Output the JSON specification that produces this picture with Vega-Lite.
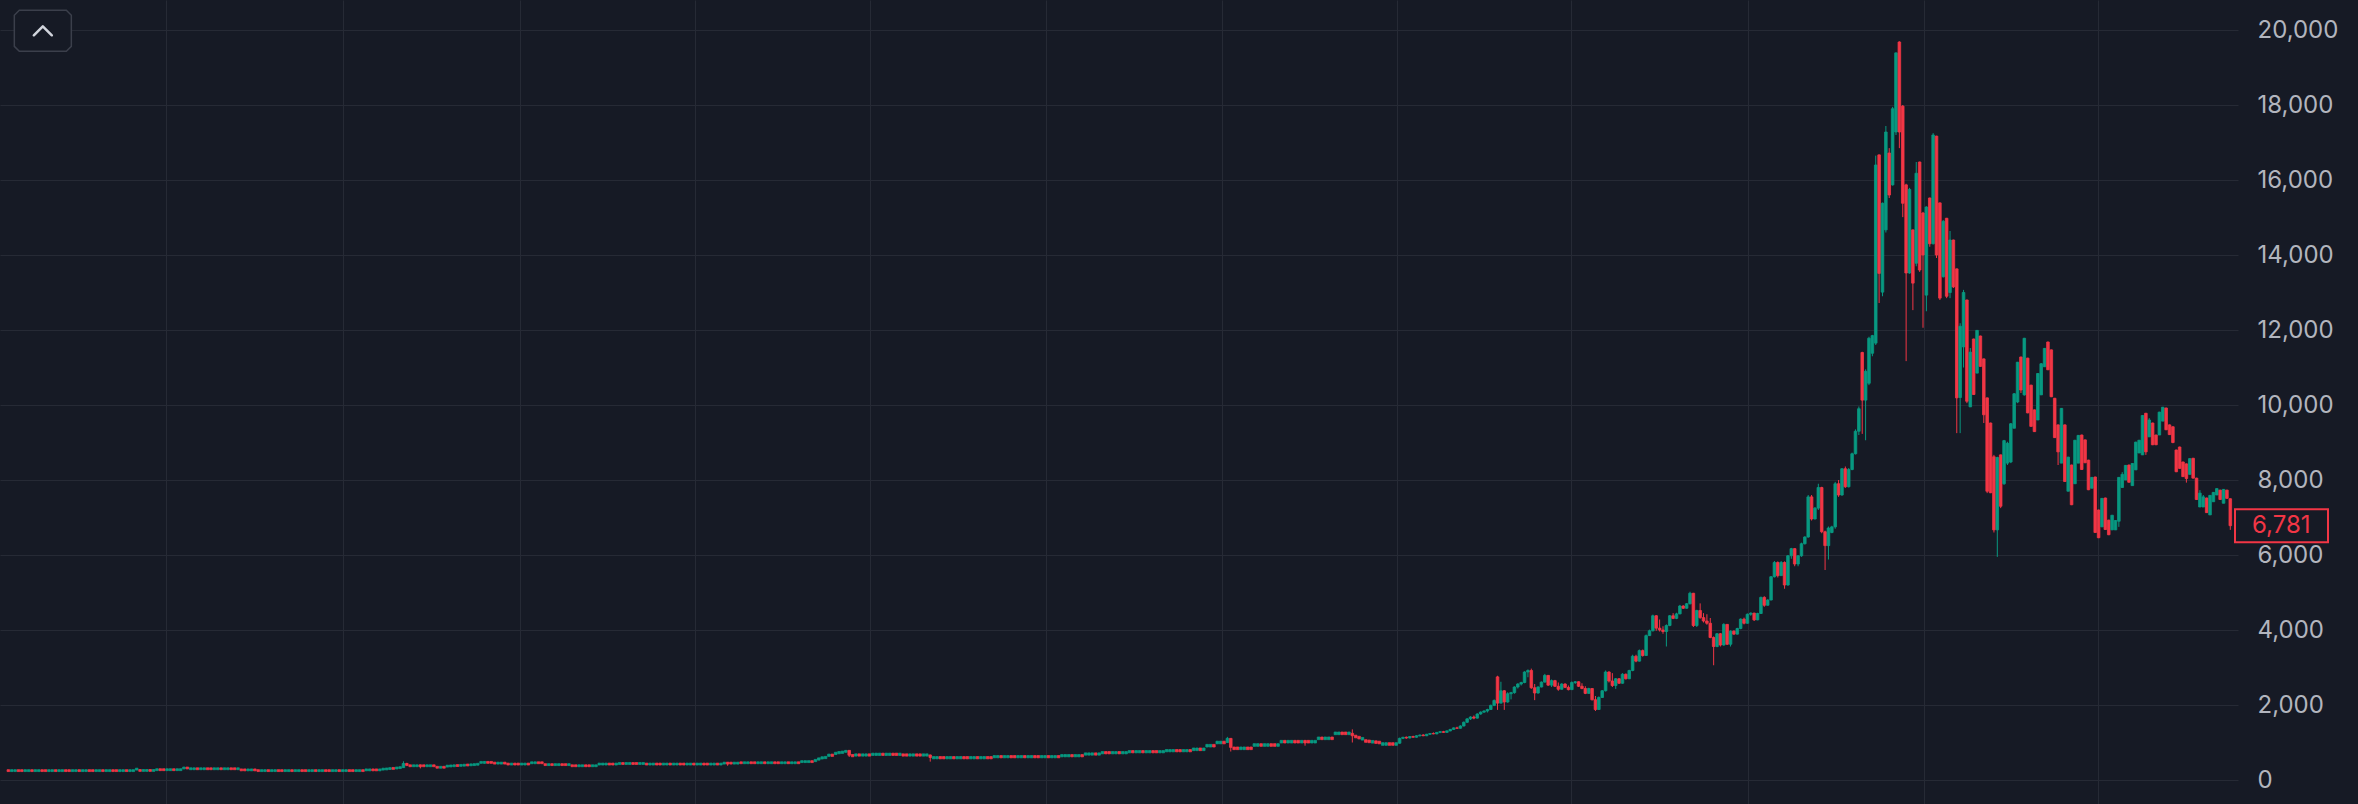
{
"$schema": "https://vega.github.io/schema/vega-lite/v6.json",
"width": 2358, "height": 804,
"autosize": {"type": "fit", "contains": "padding"},
"padding": 0,
"background": "#161a25",
"config": {"view": {"stroke": null}},
"data": {"values": [
{"w":1,"o":275,"c":225},{"w":2,"o":225,"c":275},{"w":3,"o":225,"c":275},{"w":4,"o":275,"c":225},{"w":5,"o":275,"c":225},{"w":6,"o":225,"c":275},{"w":7,"o":225,"c":275},{"w":8,"o":275,"c":225},{"w":9,"o":225,"c":275},{"w":10,"o":225,"c":275},
{"w":11,"o":275,"c":225},{"w":12,"o":275,"c":225},{"w":13,"o":225,"c":275},{"w":14,"o":225,"c":275},{"w":15,"o":275,"c":225},{"w":16,"o":225,"c":275},{"w":17,"o":225,"c":275},{"w":18,"o":275,"c":225},{"w":19,"o":275,"c":225},{"w":20,"o":225,"c":275},
{"w":21,"o":225,"c":275},{"w":22,"o":275,"c":225},{"w":23,"o":225,"c":275},{"w":24,"o":225,"c":275},{"w":25,"o":275,"c":225},{"w":26,"o":275,"c":225},{"w":27,"o":225,"c":275},{"w":28,"o":225,"c":275},{"w":29,"o":275,"c":225},{"w":30,"o":225,"c":275},
{"w":31,"o":225,"c":275},{"w":32,"o":275,"c":225},{"w":33,"o":275,"c":225},{"w":34,"o":225,"c":275},{"w":35,"o":225,"c":275},{"w":36,"o":275,"c":225},{"w":37,"o":225,"c":275},{"w":38,"o":225,"c":275},{"w":39,"o":265,"c":315},{"w":40,"o":280,"c":230},
{"w":41,"o":230,"c":280},{"w":42,"o":230,"c":280},{"w":43,"o":280,"c":230},{"w":44,"o":230,"c":280},{"w":45,"o":250,"c":300},{"w":46,"o":300,"c":250},{"w":47,"o":300,"c":250},{"w":48,"o":250,"c":300},{"w":49,"o":250,"c":300},{"w":50,"o":300,"c":250},
{"w":51,"o":250,"c":300},{"w":52,"o":250,"c":300},{"w":53,"o":295,"c":345},{"w":54,"o":345,"c":295},{"w":55,"o":275,"c":325},{"w":56,"o":275,"c":325},{"w":57,"o":325,"c":275},{"w":58,"o":275,"c":325},{"w":59,"o":275,"c":325},{"w":60,"o":325,"c":275},
{"w":61,"o":325,"c":275},{"w":62,"o":275,"c":325},{"w":63,"o":275,"c":325},{"w":64,"o":325,"c":275},{"w":65,"o":275,"c":325},{"w":66,"o":275,"c":325},{"w":67,"o":325,"c":275},{"w":68,"o":325,"c":275},{"w":69,"o":275,"c":325},{"w":70,"o":295,"c":245},
{"w":71,"o":295,"c":245},{"w":72,"o":245,"c":295},{"w":73,"o":245,"c":295},{"w":74,"o":295,"c":245},{"w":75,"o":275,"c":225},{"w":76,"o":225,"c":275},{"w":77,"o":225,"c":275},{"w":78,"o":275,"c":225},{"w":79,"o":225,"c":275},{"w":80,"o":225,"c":275},
{"w":81,"o":275,"c":225},{"w":82,"o":275,"c":225},{"w":83,"o":225,"c":275},{"w":84,"o":225,"c":275},{"w":85,"o":275,"c":225},{"w":86,"o":225,"c":275},{"w":87,"o":225,"c":275},{"w":88,"o":275,"c":225},{"w":89,"o":275,"c":225},{"w":90,"o":225,"c":275},
{"w":91,"o":225,"c":275},{"w":92,"o":275,"c":225},{"w":93,"o":225,"c":275},{"w":94,"o":225,"c":275},{"w":95,"o":275,"c":225},{"w":96,"o":275,"c":225},{"w":97,"o":225,"c":275},{"w":98,"o":225,"c":275},{"w":99,"o":275,"c":225},{"w":100,"o":225,"c":275},
{"w":101,"o":225,"c":275},{"w":102,"o":275,"c":225},{"w":103,"o":275,"c":225},{"w":104,"o":225,"c":275},{"w":105,"o":225,"c":275},{"w":106,"o":275,"c":225},{"w":107,"o":245,"c":295},{"w":108,"o":245,"c":295},{"w":109,"o":295,"c":245},{"w":110,"o":295,"c":245},
{"w":111,"o":245,"c":295},{"w":112,"o":265,"c":315},{"w":113,"o":270,"c":320},{"w":114,"o":280,"c":330},{"w":115,"o":335,"c":285},{"w":116,"o":295,"c":345},{"w":117,"o":305,"c":355},{"w":118,"o":330,"h":500,"l":320,"c":440},{"w":119,"o":440,"h":460,"l":370,"c":390},{"w":120,"o":405,"c":355},
{"w":121,"o":355,"c":405},{"w":122,"o":355,"c":405},{"w":123,"o":405,"h":410,"l":310,"c":355},{"w":124,"o":405,"c":355},{"w":125,"o":355,"c":405},{"w":126,"o":355,"c":405},{"w":127,"o":405,"c":355},{"w":128,"o":365,"c":315},{"w":129,"o":315,"c":365},{"w":130,"o":365,"c":315},
{"w":131,"o":345,"c":395},{"w":132,"o":350,"c":400},{"w":133,"o":355,"c":405},{"w":134,"o":410,"c":360},{"w":135,"o":365,"c":415},{"w":136,"o":370,"c":420},{"w":137,"o":425,"c":375},{"w":138,"o":380,"c":430},{"w":139,"o":385,"c":435},{"w":140,"o":395,"c":445},
{"w":141,"o":445,"c":495},{"w":142,"o":445,"h":500,"l":440,"c":495},{"w":143,"o":495,"c":445},{"w":144,"o":495,"c":445},{"w":145,"o":475,"c":425},{"w":146,"o":425,"c":475},{"w":147,"o":425,"c":475},{"w":148,"o":475,"c":425},{"w":149,"o":450,"c":400},{"w":150,"o":400,"c":450},
{"w":151,"o":450,"c":400},{"w":152,"o":450,"c":400},{"w":153,"o":400,"c":450},{"w":154,"o":400,"c":450},{"w":155,"o":450,"c":400},{"w":156,"o":435,"c":485},{"w":157,"o":435,"c":485},{"w":158,"o":485,"c":435},{"w":159,"o":485,"c":435},{"w":160,"o":435,"c":385},
{"w":161,"o":385,"c":435},{"w":162,"o":435,"c":385},{"w":163,"o":385,"c":435},{"w":164,"o":385,"c":435},{"w":165,"o":435,"c":385},{"w":166,"o":435,"c":385},{"w":167,"o":385,"c":435},{"w":168,"o":405,"c":355},{"w":169,"o":405,"c":355},{"w":170,"o":355,"c":405},
{"w":171,"o":355,"c":405},{"w":172,"o":405,"c":355},{"w":173,"o":405,"c":355},{"w":174,"o":355,"c":405},{"w":175,"o":355,"c":405},{"w":176,"o":400,"c":450},{"w":177,"o":400,"c":450},{"w":178,"o":400,"c":450},{"w":179,"o":450,"c":400},{"w":180,"o":450,"c":400},
{"w":181,"o":400,"c":450},{"w":182,"o":415,"c":465},{"w":183,"o":465,"c":415},{"w":184,"o":415,"c":465},{"w":185,"o":415,"c":465},{"w":186,"o":465,"c":415},{"w":187,"o":465,"c":415},{"w":188,"o":415,"c":465},{"w":189,"o":415,"c":465},{"w":190,"o":450,"c":400},
{"w":191,"o":400,"c":450},{"w":192,"o":400,"c":450},{"w":193,"o":450,"c":400},{"w":194,"o":450,"c":400},{"w":195,"o":400,"c":450},{"w":196,"o":400,"c":450},{"w":197,"o":450,"c":400},{"w":198,"o":400,"c":450},{"w":199,"o":400,"c":450},{"w":200,"o":450,"c":400},
{"w":201,"o":450,"c":400},{"w":202,"o":400,"c":450},{"w":203,"o":400,"c":450},{"w":204,"o":450,"c":400},{"w":205,"o":400,"c":450},{"w":206,"o":400,"c":450},{"w":207,"o":450,"c":400},{"w":208,"o":450,"c":400},{"w":209,"o":400,"c":450},{"w":210,"o":400,"c":450},
{"w":211,"o":450,"c":400},{"w":212,"o":400,"c":450},{"w":213,"o":425,"c":475},{"w":214,"o":475,"h":480,"l":380,"c":425},{"w":215,"o":475,"c":425},{"w":216,"o":425,"c":475},{"w":217,"o":425,"c":475},{"w":218,"o":485,"c":435},{"w":219,"o":435,"c":485},{"w":220,"o":435,"c":485},
{"w":221,"o":485,"c":435},{"w":222,"o":485,"c":435},{"w":223,"o":435,"c":485},{"w":224,"o":435,"c":485},{"w":225,"o":485,"c":435},{"w":226,"o":435,"c":485},{"w":227,"o":435,"c":485},{"w":228,"o":485,"c":435},{"w":229,"o":485,"c":435},{"w":230,"o":435,"c":485},
{"w":231,"o":435,"c":485},{"w":232,"o":485,"c":435},{"w":233,"o":435,"c":485},{"w":234,"o":435,"c":485},{"w":235,"o":485,"c":435},{"w":236,"o":465,"c":515},{"w":237,"o":465,"c":515},{"w":238,"o":465,"c":515},{"w":239,"o":515,"c":465},{"w":240,"o":490,"c":550},
{"w":241,"o":530,"c":590},{"w":242,"o":560,"c":620},{"w":243,"o":570,"c":630},{"w":244,"o":630,"c":690},{"w":245,"o":690,"c":630},{"w":246,"o":680,"c":740},{"w":247,"o":700,"c":760},{"w":248,"o":710,"c":770},{"w":249,"o":740,"h":800,"l":730,"c":790},{"w":250,"o":790,"h":795,"l":613,"c":660},
{"w":251,"o":680,"c":620},{"w":252,"o":637,"c":697},{"w":253,"o":697,"c":637},{"w":254,"o":637,"c":697},{"w":255,"o":637,"c":697},{"w":256,"o":697,"c":637},{"w":257,"o":655,"c":715},{"w":258,"o":655,"c":715},{"w":259,"o":655,"c":715},{"w":260,"o":715,"c":655},
{"w":261,"o":655,"c":715},{"w":262,"o":655,"c":715},{"w":263,"o":715,"c":655},{"w":264,"o":715,"c":655},{"w":265,"o":655,"c":715},{"w":266,"o":697,"c":637},{"w":267,"o":697,"c":637},{"w":268,"o":637,"c":697},{"w":269,"o":637,"c":697},{"w":270,"o":697,"c":637},
{"w":271,"o":697,"c":637},{"w":272,"o":637,"c":697},{"w":273,"o":637,"c":697},{"w":274,"o":667,"h":680,"l":490,"c":600},{"w":275,"o":565,"c":625},{"w":276,"o":565,"c":625},{"w":277,"o":625,"c":565},{"w":278,"o":625,"c":565},{"w":279,"o":565,"c":625},{"w":280,"o":565,"c":625},
{"w":281,"o":625,"c":565},{"w":282,"o":565,"c":625},{"w":283,"o":565,"c":625},{"w":284,"o":625,"c":565},{"w":285,"o":625,"c":565},{"w":286,"o":565,"c":625},{"w":287,"o":565,"c":625},{"w":288,"o":625,"c":565},{"w":289,"o":565,"c":625},{"w":290,"o":565,"c":625},
{"w":291,"o":625,"c":565},{"w":292,"o":625,"c":565},{"w":293,"o":592,"c":652},{"w":294,"o":592,"c":652},{"w":295,"o":652,"c":592},{"w":296,"o":592,"c":652},{"w":297,"o":592,"c":652},{"w":298,"o":652,"c":592},{"w":299,"o":652,"c":592},{"w":300,"o":592,"c":652},
{"w":301,"o":592,"c":652},{"w":302,"o":652,"c":592},{"w":303,"o":592,"c":652},{"w":304,"o":592,"c":652},{"w":305,"o":652,"c":592},{"w":306,"o":652,"c":592},{"w":307,"o":592,"c":652},{"w":308,"o":592,"c":652},{"w":309,"o":652,"c":592},{"w":310,"o":592,"c":652},
{"w":311,"o":592,"c":652},{"w":312,"o":652,"c":592},{"w":313,"o":618,"c":678},{"w":314,"o":618,"c":678},{"w":315,"o":618,"c":678},{"w":316,"o":678,"c":618},{"w":317,"o":618,"c":678},{"w":318,"o":618,"c":678},{"w":319,"o":678,"c":618},{"w":320,"o":663,"c":723},
{"w":321,"o":663,"c":723},{"w":322,"o":663,"c":723},{"w":323,"o":723,"c":663},{"w":324,"o":663,"c":723},{"w":325,"o":698,"c":758},{"w":326,"o":758,"c":698},{"w":327,"o":758,"c":698},{"w":328,"o":698,"c":758},{"w":329,"o":698,"c":758},{"w":330,"o":758,"c":698},
{"w":331,"o":698,"c":758},{"w":332,"o":698,"c":758},{"w":333,"o":725,"c":785},{"w":334,"o":785,"c":725},{"w":335,"o":725,"c":785},{"w":336,"o":725,"c":785},{"w":337,"o":785,"c":725},{"w":338,"o":725,"c":785},{"w":339,"o":725,"c":785},{"w":340,"o":785,"c":725},
{"w":341,"o":785,"c":725},{"w":342,"o":725,"c":785},{"w":343,"o":725,"c":785},{"w":344,"o":752,"c":812},{"w":345,"o":752,"c":812},{"w":346,"o":752,"c":812},{"w":347,"o":812,"c":752},{"w":348,"o":812,"c":752},{"w":349,"o":752,"c":812},{"w":350,"o":752,"c":812},
{"w":351,"o":812,"c":752},{"w":352,"o":783,"c":853},{"w":353,"o":783,"c":853},{"w":354,"o":853,"c":783},{"w":355,"o":783,"c":853},{"w":356,"o":880,"c":950},{"w":357,"o":880,"c":950},{"w":358,"o":950,"c":880},{"w":359,"o":965,"c":1035},{"w":360,"o":965,"c":1035},
{"w":361,"o":1035,"c":965},{"w":362,"o":1000,"h":1150,"l":990,"c":1110},{"w":363,"o":1110,"h":1120,"l":760,"c":870},{"w":364,"o":880,"c":810},{"w":365,"o":880,"c":810},{"w":366,"o":810,"c":880},{"w":367,"o":810,"c":880},{"w":368,"o":880,"c":810},{"w":369,"o":880,"c":810},{"w":370,"o":898,"c":968},
{"w":371,"o":898,"c":968},{"w":372,"o":968,"c":898},{"w":373,"o":898,"c":968},{"w":374,"o":898,"c":968},{"w":375,"o":968,"c":898},{"w":376,"o":968,"c":898},{"w":377,"o":898,"c":968},{"w":378,"o":987,"c":1057},{"w":379,"o":1057,"c":987},{"w":380,"o":987,"c":1057},
{"w":381,"o":987,"c":1057},{"w":382,"o":1057,"c":987},{"w":383,"o":1057,"c":987},{"w":384,"o":987,"c":1057},{"w":385,"o":1057,"h":1060,"l":915,"c":987},{"w":386,"o":1057,"c":987},{"w":387,"o":987,"c":1057},{"w":388,"o":987,"c":1057},{"w":389,"o":1076,"c":1146},{"w":390,"o":1146,"c":1076},
{"w":391,"o":1076,"c":1146},{"w":392,"o":1076,"c":1146},{"w":393,"o":1146,"c":1076},{"w":394,"o":1209,"c":1279},{"w":395,"o":1209,"c":1279},{"w":396,"o":1279,"c":1209},{"w":397,"o":1279,"c":1209},{"w":398,"o":1209,"c":1279},{"w":399,"o":1244,"h":1350,"l":1000,"c":1180},{"w":400,"o":1195,"c":1125},
{"w":401,"o":1165,"c":1095},{"w":402,"o":1065,"c":1135},{"w":403,"o":1075,"c":1005},{"w":404,"o":1065,"c":995},{"w":405,"o":985,"c":1055},{"w":406,"o":1045,"c":975},{"w":407,"o":1035,"c":965},{"w":408,"o":925,"c":995},{"w":409,"o":925,"c":995},{"w":410,"o":995,"c":925},
{"w":411,"o":995,"c":925},{"w":412,"o":925,"c":995},
{"w":413,"o":980,"h":1130,"l":970,"c":1110},{"w":414,"o":1110,"h":1150,"l":1090,"c":1140},{"w":415,"o":1140,"h":1160,"l":1100,"c":1120},{"w":416,"o":1120,"h":1170,"l":1110,"c":1160},{"w":417,"o":1160,"h":1180,"l":1130,"c":1140},
{"w":418,"o":1140,"h":1190,"l":1130,"c":1180},{"w":419,"o":1180,"h":1210,"l":1160,"c":1200},{"w":420,"o":1200,"h":1220,"l":1170,"c":1180},{"w":421,"o":1180,"h":1230,"l":1170,"c":1220},{"w":422,"o":1220,"h":1250,"l":1200,"c":1240},
{"w":423,"o":1240,"h":1270,"l":1220,"c":1230},{"w":424,"o":1230,"h":1280,"l":1220,"c":1270},{"w":425,"o":1270,"h":1300,"l":1250,"c":1290},{"w":426,"o":1290,"h":1310,"l":1260,"c":1270},{"w":427,"o":1270,"h":1320,"l":1260,"c":1310},
{"w":428,"o":1310,"h":1360,"l":1300,"c":1350},{"w":429,"o":1350,"h":1400,"l":1340,"c":1390},{"w":430,"o":1390,"h":1420,"l":1360,"c":1380},{"w":431,"o":1380,"h":1460,"l":1370,"c":1440},{"w":432,"o":1440,"h":1560,"l":1430,"c":1540},
{"w":433,"o":1540,"h":1650,"l":1520,"c":1630},{"w":434,"o":1630,"h":1700,"l":1600,"c":1680},{"w":435,"o":1680,"h":1720,"l":1620,"c":1650},{"w":436,"o":1650,"h":1780,"l":1640,"c":1760},{"w":437,"o":1760,"h":1830,"l":1740,"c":1810},
{"w":438,"o":1810,"h":1860,"l":1790,"c":1840},{"w":439,"o":1840,"h":1900,"l":1800,"c":1880},{"w":440,"o":1880,"h":2010,"l":1870,"c":1990},{"w":441,"o":1990,"h":2150,"l":1970,"c":2120},{"w":442,"o":2750,"h":2780,"l":1870,"c":2050},
{"w":443,"o":2050,"h":2620,"l":2040,"c":2380},{"w":444,"o":2380,"h":2400,"l":1870,"c":2080},{"w":445,"o":2080,"h":2340,"l":2060,"c":2300},{"w":446,"o":2300,"h":2350,"l":2150,"c":2330},{"w":447,"o":2330,"h":2500,"l":2300,"c":2480},
{"w":448,"o":2480,"h":2580,"l":2440,"c":2560},{"w":449,"o":2560,"h":2620,"l":2520,"c":2600},{"w":450,"o":2600,"h":2900,"l":2580,"c":2880},{"w":451,"o":2880,"h":2950,"l":2740,"c":2920},{"w":452,"o":2920,"h":2970,"l":2430,"c":2460},
{"w":453,"o":2460,"h":2560,"l":2130,"c":2320},{"w":454,"o":2320,"h":2500,"l":2300,"c":2480},{"w":455,"o":2480,"h":2630,"l":2470,"c":2610},{"w":456,"o":2610,"h":2830,"l":2600,"c":2790},{"w":457,"o":2790,"h":2800,"l":2510,"c":2530},
{"w":458,"o":2530,"h":2680,"l":2480,"c":2650},{"w":459,"o":2650,"h":2670,"l":2480,"c":2500},{"w":460,"o":2500,"h":2600,"l":2380,"c":2420},{"w":461,"o":2420,"h":2580,"l":2410,"c":2560},{"w":462,"o":2560,"h":2580,"l":2450,"c":2470},
{"w":463,"o":2470,"h":2520,"l":2390,"c":2410},{"w":464,"o":2410,"h":2630,"l":2400,"c":2600},{"w":465,"o":2600,"h":2640,"l":2560,"c":2620},{"w":466,"o":2620,"h":2630,"l":2480,"c":2500},{"w":467,"o":2500,"h":2580,"l":2420,"c":2440},
{"w":468,"o":2440,"h":2500,"l":2290,"c":2310},{"w":469,"o":2310,"h":2460,"l":2300,"c":2440},{"w":470,"o":2440,"h":2450,"l":2120,"c":2140},{"w":471,"o":2140,"h":2240,"l":1840,"c":1880},{"w":472,"o":1880,"h":2230,"l":1870,"c":2200},
{"w":473,"o":2200,"h":2400,"l":2190,"c":2380},{"w":474,"o":2380,"h":2920,"l":2360,"c":2880},{"w":475,"o":2880,"h":2900,"l":2600,"c":2640},{"w":476,"o":2640,"h":2850,"l":2480,"c":2520},{"w":477,"o":2520,"h":2720,"l":2430,"c":2700},
{"w":478,"o":2700,"h":2720,"l":2560,"c":2580},{"w":479,"o":2580,"h":2850,"l":2570,"c":2820},{"w":480,"o":2820,"h":2840,"l":2680,"c":2700},{"w":481,"o":2700,"h":2940,"l":2690,"c":2920},{"w":482,"o":2920,"h":3340,"l":2900,"c":3300},
{"w":483,"o":3300,"h":3340,"l":3140,"c":3170},{"w":484,"o":3170,"h":3480,"l":3160,"c":3450},{"w":485,"o":3450,"h":3480,"l":3290,"c":3320},{"w":486,"o":3320,"h":3880,"l":3310,"c":3850},{"w":487,"o":3850,"h":4010,"l":3840,"c":3980},
{"w":488,"o":3980,"h":4410,"l":3960,"c":4380},{"w":489,"o":4380,"h":4400,"l":3980,"c":4050},{"w":490,"o":4050,"h":4280,"l":3960,"c":4000},{"w":491,"o":4000,"h":4100,"l":3900,"c":3960},{"w":492,"o":3960,"h":4150,"l":3560,"c":4120},
{"w":493,"o":4120,"h":4400,"l":4100,"c":4380},{"w":494,"o":4380,"h":4450,"l":4290,"c":4310},{"w":495,"o":4310,"h":4460,"l":4290,"c":4430},{"w":496,"o":4430,"h":4670,"l":4420,"c":4640},{"w":497,"o":4640,"h":4660,"l":4560,"c":4580},
{"w":498,"o":4580,"h":4720,"l":4570,"c":4700},{"w":499,"o":4700,"h":5020,"l":4680,"c":4980},{"w":500,"o":4980,"h":4990,"l":4080,"c":4120},{"w":501,"o":4120,"h":4540,"l":4080,"c":4520},{"w":502,"o":4520,"h":4710,"l":4300,"c":4330},
{"w":503,"o":4330,"h":4450,"l":4200,"c":4240},{"w":504,"o":4240,"h":4420,"l":4140,"c":4180},{"w":505,"o":4180,"h":4320,"l":3780,"c":3800},{"w":506,"o":3800,"h":3830,"l":3060,"c":3560},{"w":507,"o":3560,"h":3920,"l":3540,"c":3900},
{"w":508,"o":3900,"h":3920,"l":3560,"c":3600},{"w":509,"o":3600,"h":4180,"l":3580,"c":4150},{"w":510,"o":4150,"h":4160,"l":3600,"c":3620},{"w":511,"o":3620,"h":3990,"l":3560,"c":3970},{"w":512,"o":3970,"h":3990,"l":3870,"c":3890},
{"w":513,"o":3890,"h":4060,"l":3880,"c":4040},{"w":514,"o":4040,"h":4310,"l":4020,"c":4290},{"w":515,"o":4290,"h":4330,"l":4150,"c":4180},{"w":516,"o":4180,"h":4440,"l":4170,"c":4420},{"w":517,"o":4420,"h":4470,"l":4380,"c":4450},
{"w":518,"o":4450,"h":4460,"l":4240,"c":4270},{"w":519,"o":4270,"h":4460,"l":4260,"c":4440},{"w":520,"o":4440,"h":4890,"l":4430,"c":4870},{"w":521,"o":4870,"h":4900,"l":4620,"c":4660},{"w":522,"o":4660,"h":4820,"l":4650,"c":4800},
{"w":523,"o":4800,"h":5440,"l":4790,"c":5420},{"w":524,"o":5420,"h":5840,"l":5400,"c":5800},{"w":525,"o":5800,"h":5830,"l":5400,"c":5450},{"w":526,"o":5450,"h":5840,"l":5440,"c":5800},{"w":527,"o":5800,"h":5830,"l":5100,"c":5200},
{"w":528,"o":5200,"h":6000,"l":5180,"c":5980},{"w":529,"o":5980,"h":6190,"l":5900,"c":6170},{"w":530,"o":6170,"h":6180,"l":5700,"c":5760},{"w":531,"o":5760,"h":6000,"l":5700,"c":5980},{"w":532,"o":5980,"h":6330,"l":5950,"c":6300},
{"w":533,"o":6300,"h":6500,"l":6280,"c":6480},{"w":534,"o":6480,"h":7600,"l":6460,"c":7550},{"w":535,"o":7550,"h":7600,"l":6920,"c":6960},{"w":536,"o":6960,"h":7280,"l":6950,"c":7250},{"w":537,"o":7250,"h":7900,"l":7200,"c":7800},
{"w":538,"o":7800,"h":7820,"l":6580,"c":6620},{"w":539,"o":6620,"h":6650,"l":5600,"c":6250},{"w":540,"o":6250,"h":6760,"l":5880,"c":6720},{"w":541,"o":6600,"h":6780,"l":6580,"c":6750},{"w":542,"o":6750,"h":7950,"l":6700,"c":7900},
{"w":543,"o":7900,"h":8000,"l":7550,"c":7600},{"w":544,"o":7600,"h":8320,"l":7580,"c":8300},{"w":545,"o":8300,"h":8360,"l":7790,"c":7820},{"w":546,"o":7820,"h":8320,"l":7800,"c":8280},{"w":547,"o":8280,"h":8730,"l":8260,"c":8700},
{"w":548,"o":8700,"h":9350,"l":8680,"c":9300},{"w":549,"o":9300,"h":9960,"l":9200,"c":9900},{"w":550,"o":11400,"h":11420,"l":9230,"c":10130},{"w":551,"o":10130,"h":10950,"l":9060,"c":10900},{"w":552,"o":10580,"h":11820,"l":10530,"c":11780},
{"w":553,"o":11380,"h":11870,"l":11300,"c":11850},{"w":554,"o":11650,"h":16650,"l":11600,"c":16400},{"w":555,"o":16670,"h":16680,"l":12720,"c":13510},{"w":556,"o":13010,"h":15400,"l":12900,"c":15380},{"w":557,"o":14670,"h":17440,"l":14600,"c":17280},
{"w":558,"o":16720,"h":16850,"l":15520,"c":15600},{"w":559,"o":15870,"h":17950,"l":15850,"c":17900},{"w":560,"o":17280,"h":19400,"l":17200,"c":19390},{"w":561,"o":19680,"h":19700,"l":16850,"c":17280},{"w":562,"o":17970,"h":18000,"l":15010,"c":15380},
{"w":563,"o":15870,"h":15900,"l":11170,"c":13520},{"w":564,"o":13520,"h":15790,"l":13500,"c":15750},{"w":565,"o":14670,"h":14680,"l":12530,"c":13250},{"w":566,"o":13780,"h":16480,"l":13700,"c":16180},{"w":567,"o":16480,"h":16490,"l":13550,"c":13600},
{"w":568,"o":15120,"h":15150,"l":12060,"c":14000},{"w":569,"o":12930,"h":15300,"l":12500,"c":15280},{"w":570,"o":15520,"h":15530,"l":14220,"c":14300},{"w":571,"o":14300,"h":17250,"l":14280,"c":17200},{"w":572,"o":17170,"h":17180,"l":13920,"c":14000},
{"w":573,"o":15390,"h":15400,"l":12800,"c":12850},{"w":574,"o":13420,"h":14930,"l":13400,"c":14900},{"w":575,"o":14980,"h":14990,"l":12850,"c":12900},{"w":576,"o":13000,"h":14640,"l":12850,"c":14400},{"w":577,"o":14400,"h":14410,"l":13120,"c":13150},
{"w":578,"o":13630,"h":13640,"l":9250,"c":10190},{"w":579,"o":10200,"h":12180,"l":9250,"c":12100},{"w":580,"o":11550,"h":13070,"l":11000,"c":13000},{"w":581,"o":12800,"h":12810,"l":10050,"c":10100},{"w":582,"o":9950,"h":11520,"l":9950,"c":11410},
{"w":583,"o":11760,"h":11770,"l":10270,"c":10280},{"w":584,"o":10850,"h":12000,"l":10850,"c":11990},{"w":585,"o":11840,"h":11850,"l":11020,"c":11030},{"w":586,"o":11230,"h":11240,"l":9520,"c":9740},{"w":587,"o":10190,"h":10200,"l":7650,"c":7700},
{"w":588,"o":9520,"h":9530,"l":7650,"c":7660},{"w":589,"o":8620,"h":8670,"l":6600,"c":6670},{"w":590,"o":6670,"h":8620,"l":5950,"c":8600},{"w":591,"o":8670,"h":8680,"l":7250,"c":7300},{"w":592,"o":7900,"h":9070,"l":7870,"c":9050},
{"w":593,"o":8450,"h":9020,"l":8400,"c":8980},{"w":594,"o":8480,"h":9520,"l":8450,"c":9500},{"w":595,"o":9380,"h":10320,"l":9380,"c":10300},{"w":596,"o":10080,"h":11150,"l":10050,"c":11140},{"w":597,"o":11280,"h":11290,"l":10320,"c":10400},
{"w":598,"o":10270,"h":11790,"l":10250,"c":11780},{"w":599,"o":11250,"h":11260,"l":9780,"c":9790},{"w":600,"o":10530,"h":10540,"l":9420,"c":9430},{"w":601,"o":9870,"h":9880,"l":9280,"c":9290},{"w":602,"o":9600,"h":10850,"l":9600,"c":10840},
{"w":603,"o":10270,"h":11120,"l":10270,"c":11100},{"w":604,"o":11020,"h":11520,"l":11020,"c":11510},{"w":605,"o":11680,"h":11690,"l":10930,"c":10940},{"w":606,"o":11470,"h":11480,"l":10210,"c":10220},{"w":607,"o":10180,"h":10190,"l":9120,"c":9130},
{"w":608,"o":9470,"h":9480,"l":8400,"c":8750},{"w":609,"o":8450,"h":9920,"l":8450,"c":9910},{"w":610,"o":9470,"h":9480,"l":7950,"c":7960},{"w":611,"o":7700,"h":8620,"l":7700,"c":8610},{"w":612,"o":8400,"h":8410,"l":7330,"c":7340},
{"w":613,"o":7900,"h":9070,"l":7900,"c":9060},{"w":614,"o":8450,"h":9200,"l":8450,"c":9190},{"w":615,"o":9200,"h":9210,"l":8270,"c":8280},{"w":616,"o":9070,"h":9080,"l":8450,"c":8460},{"w":617,"o":8530,"h":8540,"l":7730,"c":7740},
{"w":618,"o":7780,"h":8080,"l":7780,"c":8070},{"w":619,"o":8080,"h":8090,"l":6590,"c":6600},{"w":620,"o":7200,"h":7210,"l":6450,"c":6460},{"w":621,"o":6750,"h":7520,"l":6750,"c":7510},{"w":622,"o":7520,"h":7530,"l":6670,"c":6680},
{"w":623,"o":6930,"h":6940,"l":6530,"c":6540},{"w":624,"o":6670,"h":7070,"l":6670,"c":7060},{"w":625,"o":6670,"h":6930,"l":6670,"c":6920},{"w":626,"o":6900,"h":8080,"l":6750,"c":8070},{"w":627,"o":7800,"h":8210,"l":7800,"c":8150},
{"w":628,"o":8000,"h":8400,"l":8000,"c":8390},{"w":629,"o":8400,"h":8410,"l":7930,"c":7940},{"w":630,"o":7850,"h":8450,"l":7850,"c":8440},{"w":631,"o":8270,"h":9020,"l":8270,"c":9010},{"w":632,"o":8720,"h":9070,"l":8720,"c":9060},
{"w":633,"o":8670,"h":9730,"l":8670,"c":9720},{"w":634,"o":9780,"h":9790,"l":8670,"c":8750},{"w":635,"o":9150,"h":9650,"l":9150,"c":9600},{"w":636,"o":9520,"h":9530,"l":8930,"c":8940},{"w":637,"o":9200,"h":9210,"l":8930,"c":8940},
{"w":638,"o":9200,"h":9820,"l":9200,"c":9810},{"w":639,"o":9570,"h":9950,"l":9570,"c":9940},{"w":640,"o":9920,"h":9930,"l":9330,"c":9340},{"w":641,"o":9470,"h":9480,"l":9200,"c":9210},{"w":642,"o":9420,"h":9430,"l":8980,"c":9000},
{"w":643,"o":8800,"h":8810,"l":8210,"c":8220},{"w":644,"o":8880,"h":8890,"l":8300,"c":8310},{"w":645,"o":8480,"h":8490,"l":8080,"c":8090},{"w":646,"o":8430,"h":8440,"l":7930,"c":8040},{"w":647,"o":8150,"h":8580,"l":8150,"c":8570},
{"w":648,"o":8580,"h":8590,"l":8040,"c":8050},{"w":649,"o":8050,"h":8060,"l":7470,"c":7480},{"w":650,"o":7280,"h":7730,"l":7280,"c":7650},{"w":651,"o":7280,"h":7600,"l":7280,"c":7550},{"w":652,"o":7520,"h":7530,"l":7120,"c":7130},
{"w":653,"o":7070,"h":7600,"l":7070,"c":7590},{"w":654,"o":7420,"h":7680,"l":7420,"c":7670},{"w":655,"o":7600,"h":7780,"l":7600,"c":7770},{"w":656,"o":7730,"h":7740,"l":7470,"c":7480},{"w":657,"o":7380,"h":7760,"l":7380,"c":7750},
{"w":658,"o":7730,"h":7740,"l":7500,"c":7510},{"w":659,"o":7500,"h":7510,"l":6670,"c":6781}
]},
"encoding": {
  "x": {"field": "w", "type": "quantitative",
    "scale": {"domain": [0, 659.8], "nice": false, "zero": false},
    "axis": {"orient": "bottom", "values": [47.76, 100.24, 152.42, 204.3, 256.19, 308.37, 360.55, 412.15, 463.74, 516.21, 568.4, 619.69],
      "grid": true, "gridColor": "#262a35", "gridWidth": 1, "labels": false, "ticks": false, "tickSize": 0, "domain": false, "title": null, "minExtent": 0, "maxExtent": 0, "labelPadding": 0}}
},
"layer": [
  {"transform": [{"filter": "isValid(datum.h)"}],
   "mark": {"type": "rule", "strokeWidth": 1},
   "encoding": {
     "y": {"field": "l", "type": "quantitative",
       "scale": {"domain": [-640, 20800], "nice": false, "zero": false},
       "axis": {"orient": "right", "values": [0,2000,4000,6000,8000,10000,12000,14000,16000,18000,20000], "format": ",d",
         "grid": true, "gridColor": "#262a35", "gridWidth": 1, "domain": false, "ticks": false, "tickSize": 0, "labelPadding": 19,
         "labelFont": "Inter", "labelFontSize": 24, "labelColor": "#b2b5be", "labelAlign": "left", "title": null, "minExtent": 120, "maxExtent": 120}},
     "y2": {"field": "h"},
     "color": {"condition": {"test": "datum.c >= datum.o", "value": "#089981"}, "value": "#f23645"}
   }},
  {"mark": {"type": "bar", "width": 2.6, "strokeWidth": 0.8},
   "encoding": {
     "y": {"field": "o", "type": "quantitative"},
     "y2": {"field": "c"},
     "color": {"condition": {"test": "datum.c >= datum.o", "value": "#089981"}, "value": "#f23645"},
     "stroke": {"condition": {"test": "datum.c >= datum.o", "value": "#089981"}, "value": "#f23645"}
   }},
  {"transform": [{"filter": "datum.w == 659"}],
   "mark": {"type": "point", "shape": "M0.043,-0.355H2.043V0.355H0.043Z", "size": 8649, "filled": true, "fill": "#161a25", "stroke": "#f23645", "strokeWidth": 2, "opacity": 1},
   "encoding": {"x": {"datum": 659.8, "type": "quantitative"}, "y": {"field": "c", "type": "quantitative"}}},
  {"transform": [{"filter": "datum.w == 659"}],
   "mark": {"type": "text", "align": "left", "baseline": "middle", "dx": 19, "font": "Inter", "fontSize": 24, "color": "#f23645"},
   "encoding": {"x": {"datum": 659.8, "type": "quantitative"}, "y": {"field": "c", "type": "quantitative"}, "text": {"field": "c", "type": "quantitative", "format": ",d"}}},
  {"transform": [{"filter": "datum.w == 1"}],
   "mark": {"type": "point", "shape": "M-0.825,-0.72H0.825L1,-0.545V0.545L0.825,0.72H-0.825L-1,0.545V-0.545Z", "size": 3249, "filled": true, "fill": "#161a25", "stroke": "#3b3f4b", "strokeWidth": 1.5, "opacity": 1},
   "encoding": {"x": {"datum": 11.2, "type": "quantitative"}, "y": {"datum": 19979, "type": "quantitative"}}},
  {"transform": [{"filter": "datum.w == 1"}],
   "mark": {"type": "point", "shape": "M-1,0.5L0,-0.5L1,0.5", "size": 324, "filled": false, "fill": "transparent", "stroke": "#d1d4dc", "strokeWidth": 2.5, "strokeCap": "round", "strokeJoin": "round", "opacity": 1},
   "encoding": {"x": {"datum": 11.2, "type": "quantitative"}, "y": {"datum": 19979, "type": "quantitative"}}}
]
}
